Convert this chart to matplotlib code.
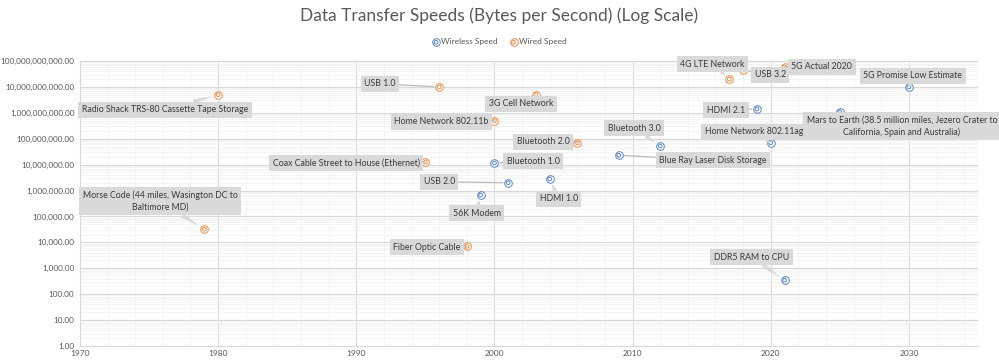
import matplotlib.pyplot as plt
from matplotlib.ticker import FuncFormatter, LogLocator, MultipleLocator, NullFormatter
from matplotlib.legend_handler import HandlerTuple

# wired series
wired_labels = [
    "Morse Code (44 miles, Wasington DC to\nBaltimore MD)",
    "Radio Shack TRS-80 Cassette Tape Storage",
    "USB 1.0",
    "3G Cell Network",
    "Home Network 802.11b",
    "Bluetooth 2.0",
    "Coax Cable Street to House (Ethernet)",
    "Fiber Optic Cable",
    "4G LTE Network",
    "USB 3.2",
    "5G Actual 2020",
]
wired_years = [1979, 1980, 1996, 2003, 2000, 2006, 1995, 1998, 2017, 2018, 2021]
wired_speeds = [3.2e4, 5e9, 1e10, 5e9, 5e8, 7e7, 1.25e7, 7e3, 2e10, 4.5e10, 6e10]

# wireless series
wireless_labels = [
    "56K Modem",
    "USB 2.0",
    "Bluetooth 1.0",
    "HDMI 1.0",
    "Blue Ray Laser Disk Storage",
    "Bluetooth 3.0",
    "HDMI 2.1",
    "Home Network 802.11ag",
    "Mars to Earth (38.5 million miles, Jezero Crater to\nCalifornia, Spain and Australia)",
    "5G Promise Low Estimate",
    "DDR5 RAM to CPU",
]
wireless_years = [1999, 2001, 2000, 2004, 2009, 2012, 2019, 2020, 2025, 2030, 2021]
wireless_speeds = [6.7e5, 2e6, 1.15e7, 2.8e6, 2.3e7, 5.2e7, 1.4e9, 7e7, 1.07e9, 1e10, 350]

# label placement (offset pixels from the point) and connector style
wired_offsets = [(-44, 28), (-53, -15), (-59, 3), (-15, -9), (-53, -1), (-34, 1),
                 (-79, -1), (-40, -1), (-17, 15), (27, -5), (37, 0)]
wired_styles = ["wedge", "wedge", "line", "wedge", "line", "line",
                "line", "line", "wedge", "line", "line"]
wireless_offsets = [(-4, -18), (-69, 1), (39, 2), (9, -20), (94, -5), (-26, 18),
                    (-31, -1), (-17, 11), (62, -14), (4, 11), (-33, 23)]
wireless_styles = ["wedge", "line", "line", "wedge", "line", "wedge",
                   "line", "wedge", "wedge", "wedge", "wedge"]

blue = "#5b83cc"
orange = "#ef8c4a"
box_color = "#d9d9d9"
text_color = "#3a3a3a"
font = "Lato"

fig = plt.figure(figsize=(9.99, 3.62), dpi=100)
ax = fig.add_axes([0.080, 0.0442, 0.899, 0.7873])

ax.set_yscale("log")
ax.set_xlim(1970, 2035)
ax.set_ylim(1, 1e11)

# gridlines
ax.xaxis.set_major_locator(MultipleLocator(10))
ax.xaxis.set_minor_locator(MultipleLocator(2))
ax.yaxis.set_major_locator(LogLocator(base=10, numticks=20))
ax.yaxis.set_minor_locator(LogLocator(base=10, subs=range(2, 10), numticks=20))
ax.yaxis.set_minor_formatter(NullFormatter())
ax.grid(which="major", color="#d9d9d9", lw=0.8)
ax.grid(which="minor", color="#f0f0f0", lw=0.5)
ax.set_axisbelow(True)
for side in ["top", "right"]:
    ax.spines[side].set_visible(False)
for side in ["left", "bottom"]:
    ax.spines[side].set_color("#d9d9d9")

ax.yaxis.set_major_formatter(FuncFormatter(lambda v, p: f"{v:,.2f}"))
ax.tick_params(which="both", length=0, labelsize=6, labelcolor="#595959")
ax.tick_params(axis="y", pad=4, labelsize=5.9)
ax.tick_params(axis="x", pad=3)
for lab in ax.get_xticklabels() + ax.get_yticklabels():
    lab.set_fontfamily(font)


def draw_series(years, speeds, color):
    outer = ax.scatter(years, speeds, s=30, facecolors="white", edgecolors=color,
                       linewidths=0.7, zorder=4)
    inner = ax.scatter(years, speeds, s=7, facecolors="none", edgecolors=color,
                       linewidths=0.7, zorder=5)
    return (outer, inner)


def draw_labels(labels, years, speeds, offsets, styles):
    for lab, x, y, off, st in zip(labels, years, speeds, offsets, styles):
        if st == "wedge":
            arrow = dict(arrowstyle="wedge,tail_width=0.5,shrink_factor=0.6",
                         fc=box_color, ec="none", shrinkA=0, shrinkB=4)
        else:
            arrow = dict(arrowstyle="-", color="#bfbfbf", lw=1.0,
                         shrinkA=0, shrinkB=4)
        ax.annotate(lab, (x, y), xytext=off, textcoords="offset pixels",
                    ha="center", va="center", fontsize=6.3, color=text_color,
                    family=font, linespacing=1.4, annotation_clip=False,
                    bbox=dict(boxstyle="square,pad=0.4", fc=box_color, ec="none"),
                    arrowprops=arrow, zorder=6)


h_wireless = draw_series(wireless_years, wireless_speeds, blue)
h_wired = draw_series(wired_years, wired_speeds, orange)
draw_labels(wired_labels, wired_years, wired_speeds, wired_offsets, wired_styles)
draw_labels(wireless_labels, wireless_years, wireless_speeds, wireless_offsets, wireless_styles)

fig.text(0.5, 0.956, "Data Transfer Speeds (Bytes per Second) (Log Scale)",
         ha="center", va="center", fontsize=12.5, color="#595959", family=font)

fig.legend([h_wireless, h_wired], ["Wireless Speed", "Wired Speed"],
           handler_map={tuple: HandlerTuple(ndivide=1)},
           loc="center", bbox_to_anchor=(0.5, 0.884), ncol=2, frameon=False,
           prop={"family": font, "size": 6}, labelcolor="#595959",
           handlelength=0.8, handletextpad=0.2, columnspacing=1.5)

fig.savefig("out.png", dpi=100)
